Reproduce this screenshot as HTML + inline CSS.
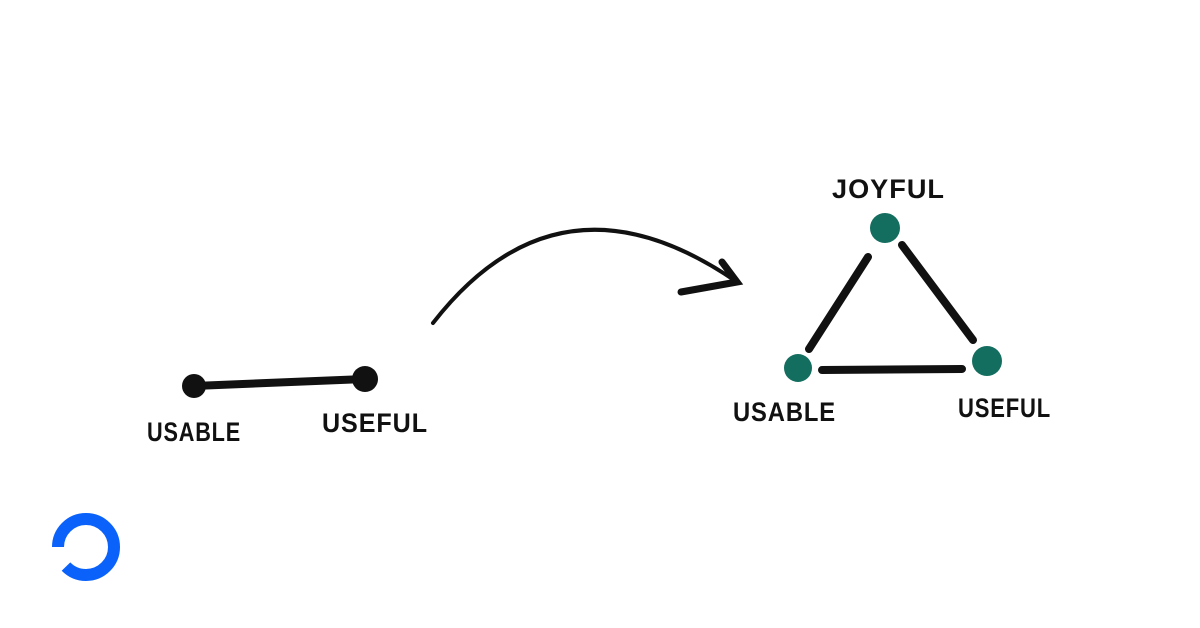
<!DOCTYPE html>
<html><head><style>html,body{margin:0;padding:0;background:#fff}svg{display:block}</style></head>
<body>
<svg width="1200" height="628" viewBox="0 0 1200 628" xmlns="http://www.w3.org/2000/svg">
<rect width="1200" height="628" fill="#fff"/>
<g fill="#111" font-family="Liberation Sans, sans-serif" font-weight="bold" font-size="27" style="letter-spacing:1px">
<text x="147" y="441" textLength="94" lengthAdjust="spacingAndGlyphs">USABLE</text>
<text x="322" y="432" textLength="106" lengthAdjust="spacingAndGlyphs">USEFUL</text>
<text x="832" y="198" textLength="113" lengthAdjust="spacingAndGlyphs">JOYFUL</text>
<text x="733" y="421" textLength="103" lengthAdjust="spacingAndGlyphs">USABLE</text>
<text x="958" y="417" textLength="93" lengthAdjust="spacingAndGlyphs">USEFUL</text>
</g>
<g stroke="#111" stroke-linecap="round" fill="none">
<line x1="194" y1="386" x2="365" y2="379" stroke-width="8"/>
<path d="M433 323 Q560 160 737 282" stroke-width="4"/>
<path d="M722 262 L737 282 L681 292" stroke-width="7"/>
<line x1="868" y1="257" x2="809" y2="349" stroke-width="8"/>
<line x1="902" y1="245" x2="973" y2="340" stroke-width="8"/>
<line x1="822" y1="370" x2="962" y2="369" stroke-width="8"/>
</g>
<circle cx="194" cy="386" r="12" fill="#111"/>
<circle cx="365" cy="379" r="13" fill="#111"/>
<circle cx="885" cy="228" r="15" fill="#146e5f"/>
<circle cx="798" cy="368" r="14" fill="#146e5f"/>
<circle cx="987" cy="361" r="15" fill="#146e5f"/>
<circle cx="86" cy="547" r="28" fill="none" stroke="#0a62fb" stroke-width="12" stroke-dasharray="154 22" transform="rotate(180 86 547)"/>
</svg>
</body></html>
